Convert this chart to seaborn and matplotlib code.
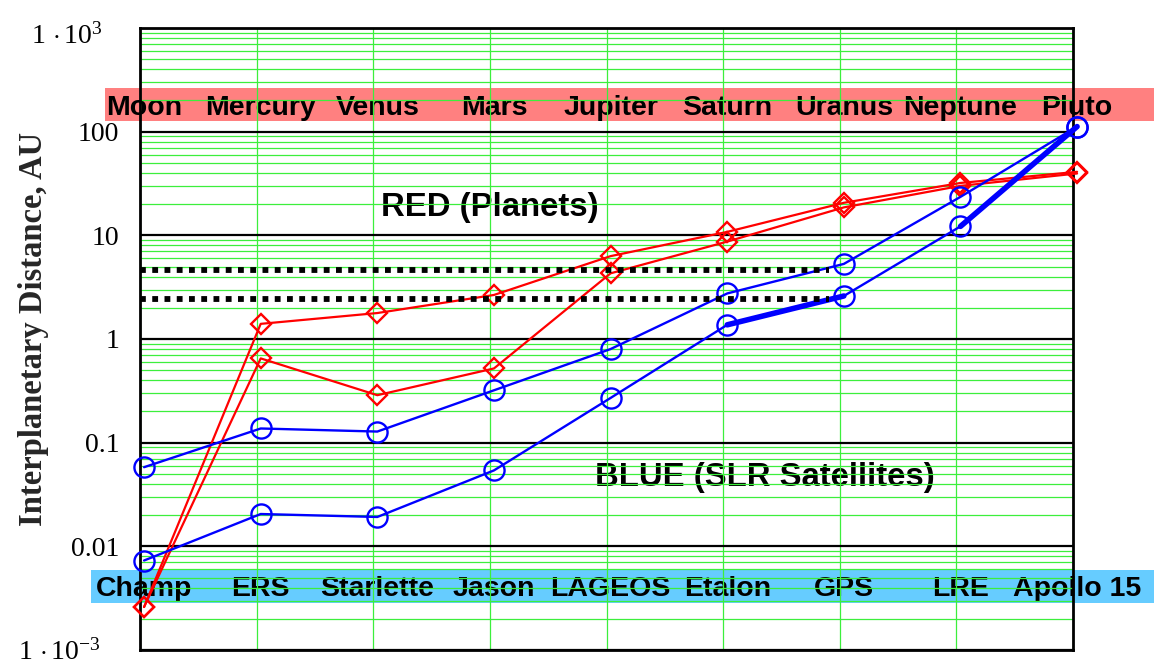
import numpy as np
import pandas as pd
import matplotlib
matplotlib.use("Agg")
import matplotlib.pyplot as plt
import matplotlib.transforms as mtransforms
from matplotlib.patches import Rectangle
from matplotlib.ticker import FixedLocator, NullFormatter
import seaborn as sns

# ---- data -------------------------------------------------------------
planets = ["Moon", "Mercury", "Venus", "Mars", "Jupiter",
           "Saturn", "Uranus", "Neptune", "Pluto"]
satellites = ["Champ", "ERS", "Starlette", "Jason", "LAGEOS",
              "Etalon", "GPS", "LRE", "Apollo 15"]

# distances from Earth, AU (max / min)
planet_max = [0.0026, 1.40, 1.78, 2.66, 6.3, 10.8, 20.6, 32.0, 41.0]
planet_min = [0.0026, 0.65, 0.287, 0.52, 4.3, 8.7, 18.6, 30.0, 39.5]

# SLR satellites mapped onto the same scale
sat_upper = [0.058, 0.137, 0.128, 0.32, 0.80, 2.75, 5.3, 23.5, 112.0]
sat_lower = [0.0073, 0.0205, 0.0192, 0.054, 0.27, 1.37, 2.6, 12.2, 112.0]
sat_lower_bundles = [(5, 6), (7, 8)]   # index pairs drawn as bundled segments

ref_levels = [4.6, 2.43]               # dotted reference levels, AU
ref_level_end = 5.87                   # x where the dotted levels stop

ytick_values = [1e-3, 1e-2, 1e-1, 1, 10, 100, 1e3]
ytick_labels = [r"$1\,\cdot10^{-3}$", "0.01", "0.1", "1", "10", "100",
                r"$1\,\cdot10^{3}$"]

# ---- style ------------------------------------------------------------
sns.set_theme(style="white")
plt.rcParams["font.family"] = ["Liberation Serif", "DejaVu Serif"]
plt.rcParams["mathtext.fontset"] = "custom"
plt.rcParams["mathtext.rm"] = "Liberation Serif"
plt.rcParams["mathtext.it"] = "Liberation Serif:italic"
plt.rcParams["mathtext.bf"] = "Liberation Serif:bold"

W, H = 1154, 666
fig = plt.figure(figsize=(W / 100, H / 100), dpi=100)
ax = fig.add_axes([140 / W, 1 - 650 / H, (1073 - 140) / W, (650 - 28) / H])

x = np.arange(len(planets))
xlim = (-0.035, len(planets) - 1 - 0.035)

RED = "#ff0000"
BLUE = "#0000ff"
GREEN = "#3cef3c"

df = pd.DataFrame({
    "x": x,
    "planet_max": planet_max,
    "planet_min": planet_min,
    "sat_upper": sat_upper,
    "sat_lower": sat_lower,
})

# ---- series -----------------------------------------------------------
for col in ["planet_max", "planet_min"]:
    sns.lineplot(data=df, x="x", y=col, ax=ax, color=RED, lw=1.6,
                 marker="D", markersize=10, markerfacecolor="none",
                 markeredgecolor=RED, markeredgewidth=1.7,
                 clip_on=False, zorder=4)

for col in ["sat_upper", "sat_lower"]:
    sns.lineplot(data=df, x="x", y=col, ax=ax, color=BLUE, lw=1.7,
                 marker="o", markersize=14.5, markerfacecolor="none",
                 markeredgecolor=BLUE, markeredgewidth=1.7,
                 clip_on=False, zorder=4)

for i0, i1 in sat_lower_bundles:
    seg = df.iloc[[i0, i1]]
    sns.lineplot(data=seg, x="x", y="sat_lower", ax=ax, color=BLUE,
                 lw=4.0, clip_on=False, zorder=4)

# dotted reference levels
for lvl in ref_levels:
    ax.plot([xlim[0], ref_level_end], [lvl, lvl], color="black", lw=4.2,
            linestyle=(0, (1, 1.1)), dash_capstyle="butt", zorder=5)

# ---- axes -------------------------------------------------------------
ax.set_yscale("log")
ax.set_ylim(1e-3, 1e3)
ax.set_xlim(*xlim)
ax.set_xlabel("")
ax.set_ylabel("Interplanetary Distance, AU", fontsize=23.5, fontweight="bold",
              family="Liberation Serif")
ax.yaxis.set_label_coords(-0.098, 0.516)

ax.set_xticks(np.linspace(xlim[0], xlim[1], len(planets)))
ax.xaxis.set_major_formatter(NullFormatter())
ax.tick_params(axis="x", length=0)

ax.yaxis.set_major_locator(FixedLocator(ytick_values))
ax.set_yticklabels(ytick_labels)
minor = [m * 10.0 ** e for e in range(-3, 3) for m in range(2, 10)]
ax.yaxis.set_minor_locator(FixedLocator(minor))
ax.yaxis.set_minor_formatter(NullFormatter())
ax.tick_params(axis="y", which="both", length=0, pad=15, labelsize=20,
               labelcolor="black")

ax.grid(False)
ax.yaxis.grid(True, which="minor", color=GREEN, lw=0.9)
ax.xaxis.grid(True, which="major", color=GREEN, lw=0.9)
ax.yaxis.grid(True, which="major", color="black", lw=1.6)
ax.set_axisbelow(True)

for sp in ax.spines.values():
    sp.set_color("black")
    sp.set_linewidth(2.0)
    sp.set_visible(True)

# shift the power-of-ten labels the way they sit on the left margin
for lab, v in zip(ax.get_yticklabels(), ytick_values):
    if v == 1e3:
        off = mtransforms.ScaledTranslation(-16 / 100, -5 / 100,
                                            fig.dpi_scale_trans)
        lab.set_transform(lab.get_transform() + off)
    elif v == 1e-3:
        off = mtransforms.ScaledTranslation(-18 / 100, 1 / 100,
                                            fig.dpi_scale_trans)
        lab.set_transform(lab.get_transform() + off)

# ---- name bands -------------------------------------------------------
band_tr = mtransforms.blended_transform_factory(ax.transAxes, ax.transAxes)
top_band = Rectangle((-0.0375, 0.8505), 1.126, 0.053, transform=band_tr,
                     facecolor="#ff8080", edgecolor="none", clip_on=False,
                     zorder=0.2)
bot_band = Rectangle((-0.0525, 0.0756), 1.141, 0.053, transform=band_tr,
                     facecolor="#66ccff", edgecolor="none", clip_on=False,
                     zorder=0.2)
ax.add_patch(top_band)
ax.add_patch(bot_band)

lab_tr = mtransforms.blended_transform_factory(ax.transData, ax.transAxes)
sans = ["Liberation Sans", "DejaVu Sans"]
for xi, name in zip(x, planets):
    ax.text(xi, 0.872, name, transform=lab_tr, ha="center", va="center",
            fontsize=20.5, fontweight="bold", family=sans, color="black",
            clip_on=False, zorder=0.3)
for xi, name in zip(x, satellites):
    ax.text(xi, 0.098, name, transform=lab_tr, ha="center", va="center",
            fontsize=20.5, fontweight="bold", family=sans, color="black",
            clip_on=False, zorder=0.3)

ax.text(0.375, 0.711, "RED (Planets)", transform=ax.transAxes, ha="center",
        va="center", fontsize=23.7, fontweight="bold", family=sans,
        color="black", zorder=0.3)
ax.text(0.670, 0.278, "BLUE (SLR Satellites)", transform=ax.transAxes,
        ha="center", va="center", fontsize=23.7, fontweight="bold",
        family=sans, color="black", zorder=0.3)

fig.savefig("out.png", dpi=100)
